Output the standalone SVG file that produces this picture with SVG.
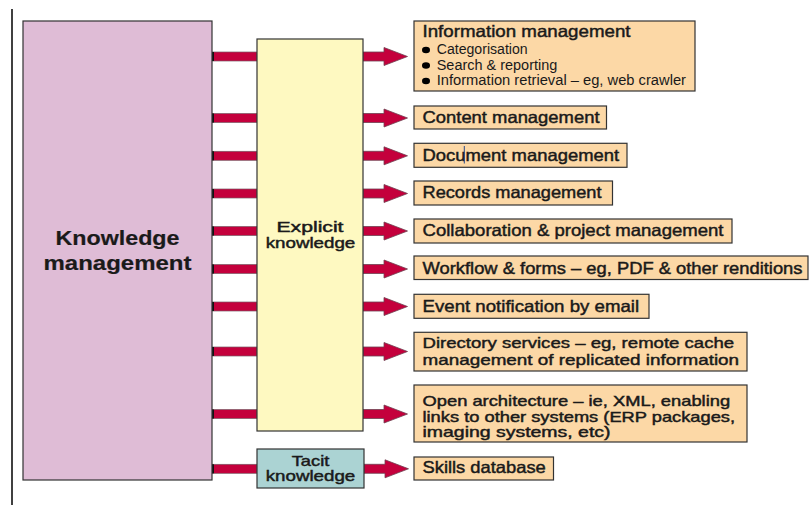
<svg xmlns="http://www.w3.org/2000/svg" width="809" height="505" viewBox="0 0 809 505">
  <style>
    .box { stroke: #333; stroke-width: 1.2; }
    .km { fill: #dfbcd6; }
    .explicit { fill: #fef9c1; }
    .tacit { fill: #abd3d3; }
    .item { fill: #fcd8a6; }
    .lbl { font-family: "Liberation Sans", Arial, Helvetica, sans-serif; font-size: 16.5px; fill: #1a1a1a; stroke: #1a1a1a; stroke-width: 0.45px; }
    .tight { font-size: 15.3px; }
    .big { font-size: 20.5px; font-weight: bold; stroke-width: 0.2px; }
    .small { font-size: 14.5px; }
    .sub { font-family: "Liberation Sans", Arial, Helvetica, sans-serif; font-size: 14px; fill: #1a1a1a; }
    .mid { text-anchor: middle; }
    .bar { fill: #c4003c; stroke: #7a5a64; stroke-width: 0.7; }
    .barEnd { fill: #111; }
    .arrow { fill: #c4003c; stroke: #6e4050; stroke-width: 0.8; stroke-linejoin: miter; }
    .bullet { fill: #000; }
  </style>
  <defs>
    <!-- fat block arrow, origin at the left end of the shaft, centred on y=0 -->
    <path id="blockArrow" class="arrow" d="M0,-4.5 H21 V-9 L44.5,0 L21,9 V4.5 H0 Z"/>
  </defs>

  <!-- margin rule -->
  <line x1="12" y1="9" x2="12" y2="505" stroke="#000" stroke-width="1.5"/>

  <g id="connectors">
    <!-- feeds from Knowledge management into the middle column -->
    <g id="feeds">
      <rect class="bar" x="212" y="52" width="45" height="9"/><rect class="barEnd" x="212" y="52" width="2" height="9"/>
      <rect class="bar" x="212" y="113.5" width="45" height="9"/><rect class="barEnd" x="212" y="113.5" width="2" height="9"/>
      <rect class="bar" x="212" y="151.3" width="45" height="9"/><rect class="barEnd" x="212" y="151.3" width="2" height="9"/>
      <rect class="bar" x="212" y="189" width="45" height="9"/><rect class="barEnd" x="212" y="189" width="2" height="9"/>
      <rect class="bar" x="212" y="226.5" width="45" height="9"/><rect class="barEnd" x="212" y="226.5" width="2" height="9"/>
      <rect class="bar" x="212" y="264.5" width="45" height="9"/><rect class="barEnd" x="212" y="264.5" width="2" height="9"/>
      <rect class="bar" x="212" y="302" width="45" height="9"/><rect class="barEnd" x="212" y="302" width="2" height="9"/>
      <rect class="bar" x="212" y="347" width="45" height="9"/><rect class="barEnd" x="212" y="347" width="2" height="9"/>
      <rect class="bar" x="212" y="409.5" width="45" height="9"/><rect class="barEnd" x="212" y="409.5" width="2" height="9"/>
      <rect class="bar" x="212" y="464.3" width="45" height="9"/><rect class="barEnd" x="212" y="464.3" width="2" height="9"/>
    </g>
    <!-- arrows from the middle column out to each capability -->
    <g id="outputs">
      <use href="#blockArrow" x="363" y="56.5"/>
      <use href="#blockArrow" x="363" y="118"/>
      <use href="#blockArrow" x="363" y="155.8"/>
      <use href="#blockArrow" x="363" y="193.5"/>
      <use href="#blockArrow" x="363" y="231"/>
      <use href="#blockArrow" x="363" y="269"/>
      <use href="#blockArrow" x="363" y="306.5"/>
      <use href="#blockArrow" x="363" y="351.5"/>
      <use href="#blockArrow" x="363" y="414"/>
      <use href="#blockArrow" x="364" y="468.8"/>
    </g>
  </g>

  <g id="knowledge-management">
    <rect class="box km" x="23" y="21" width="189" height="459"/>
    <text class="lbl big mid" x="117.5" y="244.5" textLength="124" lengthAdjust="spacingAndGlyphs">Knowledge</text>
    <text class="lbl big mid" x="117.5" y="270" textLength="148" lengthAdjust="spacingAndGlyphs">management</text>
  </g>

  <g id="explicit-knowledge">
    <rect class="box explicit" x="257" y="39" width="106" height="392"/>
    <text class="lbl small mid" x="310" y="232" textLength="67" lengthAdjust="spacingAndGlyphs">Explicit</text>
    <text class="lbl small mid" x="310.5" y="248" textLength="89.5" lengthAdjust="spacingAndGlyphs">knowledge</text>
  </g>

  <g id="tacit-knowledge">
    <rect class="box tacit" x="257" y="449" width="107" height="39"/>
    <text class="lbl small mid" x="310.5" y="465.8" textLength="37.6" lengthAdjust="spacingAndGlyphs">Tacit</text>
    <text class="lbl small mid" x="310.5" y="481" textLength="89.5" lengthAdjust="spacingAndGlyphs">knowledge</text>
  </g>

  <g id="information-management">
    <rect class="box item" x="414" y="21" width="281" height="70"/>
    <text class="lbl" x="422.5" y="37.3" textLength="208" lengthAdjust="spacingAndGlyphs">Information management</text>
    <ellipse class="bullet" cx="426" cy="50" rx="4" ry="3.3"/>
    <text class="sub" x="436.7" y="54" textLength="91" lengthAdjust="spacingAndGlyphs">Categorisation</text>
    <ellipse class="bullet" cx="426" cy="65.5" rx="4" ry="3.3"/>
    <text class="sub" x="436.7" y="69.5" textLength="120.6" lengthAdjust="spacingAndGlyphs">Search &amp; reporting</text>
    <ellipse class="bullet" cx="426" cy="81" rx="4" ry="3.3"/>
    <text class="sub" x="436.7" y="85" textLength="249.3" lengthAdjust="spacingAndGlyphs">Information retrieval – eg, web crawler</text>
  </g>

  <g id="content-management">
    <rect class="box item" x="414" y="106" width="192.5" height="23"/>
    <text class="lbl" x="422.5" y="123.3" textLength="177" lengthAdjust="spacingAndGlyphs">Content management</text>
  </g>

  <g id="document-management">
    <rect class="box item" x="414" y="143.3" width="213" height="24"/>
    <text class="lbl" x="422.5" y="160.7" textLength="196.6" lengthAdjust="spacingAndGlyphs">Document management</text>
    <line x1="464.3" y1="146" x2="464.3" y2="163.5" stroke="#2a4a8a" stroke-width="1"/>
  </g>

  <g id="records-management">
    <rect class="box item" x="414" y="181" width="198.5" height="24"/>
    <text class="lbl" x="422.5" y="198.3" textLength="179" lengthAdjust="spacingAndGlyphs">Records management</text>
  </g>

  <g id="collaboration">
    <rect class="box item" x="414" y="219" width="318" height="24"/>
    <text class="lbl" x="422.5" y="236" textLength="301" lengthAdjust="spacingAndGlyphs">Collaboration &amp; project management</text>
  </g>

  <g id="workflow">
    <rect class="box item" x="414" y="256" width="394" height="23.5"/>
    <text class="lbl" x="422.5" y="273.7" textLength="380" lengthAdjust="spacingAndGlyphs">Workflow &amp; forms – eg, PDF &amp; other renditions</text>
  </g>

  <g id="event-notification">
    <rect class="box item" x="414" y="294.3" width="235" height="24"/>
    <text class="lbl" x="422.5" y="311.7" textLength="216.6" lengthAdjust="spacingAndGlyphs">Event notification by email</text>
  </g>

  <g id="directory-services">
    <rect class="box item" x="414" y="332.3" width="333" height="38.7"/>
    <text class="lbl tight" x="422.5" y="348.3" textLength="311.6" lengthAdjust="spacingAndGlyphs">Directory services – eg, remote cache</text>
    <text class="lbl tight" x="422.5" y="365" textLength="316.6" lengthAdjust="spacingAndGlyphs">management of replicated information</text>
  </g>

  <g id="open-architecture">
    <rect class="box item" x="414" y="385" width="333" height="57"/>
    <text class="lbl small" x="422.5" y="406" textLength="307.6" lengthAdjust="spacingAndGlyphs">Open architecture – ie, XML, enabling</text>
    <text class="lbl small" x="422.5" y="421.6" textLength="312.6" lengthAdjust="spacingAndGlyphs">links to other systems (ERP packages,</text>
    <text class="lbl small" x="422.5" y="437.2" textLength="188" lengthAdjust="spacingAndGlyphs">imaging systems, etc)</text>
  </g>

  <g id="skills-database">
    <rect class="box item" x="414" y="457" width="139.5" height="23"/>
    <text class="lbl" x="422.5" y="473" textLength="123.3" lengthAdjust="spacingAndGlyphs">Skills database</text>
  </g>
</svg>
